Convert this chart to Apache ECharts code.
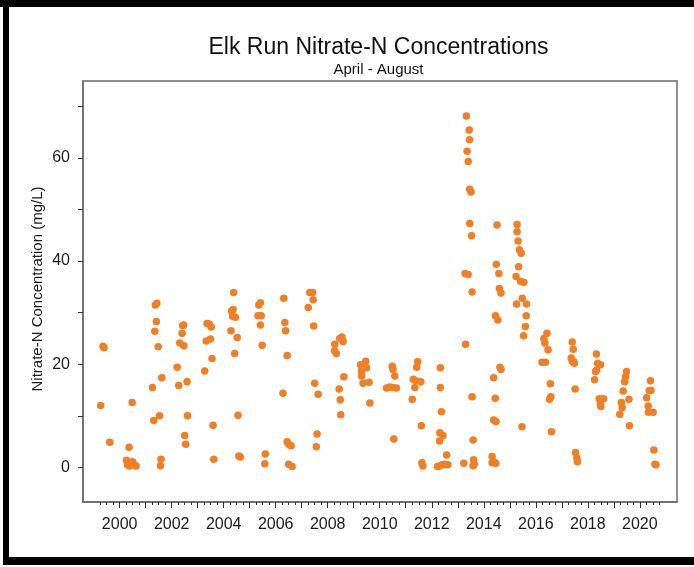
<!DOCTYPE html>
<html>
<head>
<meta charset="utf-8">
<script src="https://cdn.jsdelivr.net/npm/echarts@6/dist/echarts.min.js"></script>
<style>
html,body{margin:0;padding:0;background:#fff;}
#chart{width:694px;height:567px;}
</style>
</head>
<body>
<div id="chart"></div>
<script>
// Samples as [decimal year, nitrate-N mg/L], grouped by year
var s1999 = [[1999.27,12.0],[1999.36,23.5],[1999.40,23.2],[1999.62,4.9]];
var s2000 = [[2000.26,1.4],[2000.30,0.5],[2000.36,3.9],[2000.38,0.3],[2000.48,12.6],[2000.50,1.1],[2000.55,0.5],[2000.63,0.3]];
var s2001 = [[2001.26,15.5],[2001.31,9.1],[2001.35,26.4],[2001.37,31.5],[2001.41,28.3],[2001.43,31.8],[2001.48,23.4],[2001.53,10.0],[2001.57,0.35],[2001.59,1.6],[2001.62,17.4]];
var s2002 = [[2002.21,19.4],[2002.27,15.9],[2002.31,24.1],[2002.40,26.0],[2002.42,27.5],[2002.46,27.6],[2002.47,23.6],[2002.50,6.2],[2002.54,4.5],[2002.59,16.6],[2002.61,10.0]];
var s2003 = [[2003.27,18.7],[2003.33,24.5],[2003.36,27.9],[2003.44,27.8],[2003.49,24.9],[2003.52,27.2],[2003.55,21.1],[2003.59,8.2],[2003.62,1.6]];
var s2004 = [[2004.28,26.5],[2004.30,30.3],[2004.36,30.6],[2004.34,29.3],[2004.45,29.1],[2004.38,33.9],[2004.42,22.1],[2004.52,25.2],[2004.55,10.1],[2004.58,2.2],[2004.64,2.0]];
var s2005 = [[2005.32,29.4],[2005.35,31.5],[2005.41,31.9],[2005.41,27.6],[2005.44,29.4],[2005.48,23.7],[2005.58,0.7],[2005.60,2.6]];
var s2006 = [[2006.28,14.4],[2006.31,32.8],[2006.35,28.1],[2006.38,26.5],[2006.44,21.7],[2006.44,5.0],[2006.50,4.5],[2006.59,4.2],[2006.50,0.6],[2006.63,0.2]];
var s2007 = [[2007.25,31.0],[2007.31,33.9],[2007.42,33.9],[2007.44,32.5],[2007.46,27.4],[2007.50,16.3],[2007.56,4.0],[2007.59,6.5],[2007.63,14.2]];
var s2008 = [[2008.26,22.6],[2008.27,23.9],[2008.33,22.1],[2008.44,15.2],[2008.46,25.0],[2008.48,13.1],[2008.50,10.2],[2008.55,25.3],[2008.59,24.4],[2008.62,17.6]];
var s2009 = [[2009.26,19.9],[2009.30,18.7],[2009.30,17.7],[2009.36,16.3],[2009.46,20.6],[2009.49,19.3],[2009.59,16.5],[2009.62,12.5]];
var s2010 = [[2010.26,15.4],[2010.38,15.6],[2010.48,19.6],[2010.51,19.0],[2010.51,15.5],[2010.54,5.5],[2010.58,17.7],[2010.64,15.4]];
var s2011 = [[2011.25,13.2],[2011.29,17.1],[2011.35,15.5],[2011.38,16.8],[2011.42,19.4],[2011.46,20.5],[2011.58,16.6],[2011.60,8.1],[2011.62,0.9],[2011.66,0.3]];
var s2012 = [[2012.22,0.2],[2012.30,0.3],[2012.33,19.3],[2012.33,15.5],[2012.37,10.8],[2012.31,6.7],[2012.43,6.2],[2012.30,5.1],[2012.40,0.5],[2012.50,0.6],[2012.57,2.4],[2012.62,0.5]];
var s2013 = [[2013.23,0.8],[2013.28,37.6],[2013.30,23.9],[2013.33,68.1],[2013.36,61.3],[2013.40,59.3],[2013.40,37.4],[2013.44,65.4],[2013.45,63.5],[2013.46,53.9],[2013.46,47.3],[2013.51,53.4],[2013.53,44.9],[2013.55,34.0],[2013.55,13.7],[2013.59,5.3],[2013.61,1.5],[2013.63,0.6],[2013.59,0.35]];
var s2014 = [[2014.32,2.1],[2014.32,0.9],[2014.38,1.1],[2014.38,17.4],[2014.38,9.2],[2014.44,13.4],[2014.45,29.4],[2014.46,0.8],[2014.47,8.9],[2014.48,39.4],[2014.51,47.0],[2014.54,28.6],[2014.58,37.6],[2014.60,34.7],[2014.62,19.4],[2014.66,33.8],[2014.66,19.0]];
var s2015 = [[2015.24,37.0],[2015.26,31.7],[2015.28,47.1],[2015.28,45.7],[2015.32,43.9],[2015.34,38.9],[2015.37,42.2],[2015.41,36.1],[2015.44,41.5],[2015.47,7.9],[2015.48,32.8],[2015.53,25.5],[2015.54,35.9],[2015.60,27.3],[2015.63,29.4],[2015.64,31.7]];
var s2016 = [[2016.24,20.4],[2016.31,25.0],[2016.35,24.1],[2016.37,20.4],[2016.43,26.0],[2016.47,22.8],[2016.53,13.2],[2016.56,16.2],[2016.58,13.7],[2016.60,6.9]];
var s2017 = [[2017.36,21.2],[2017.40,24.3],[2017.40,20.6],[2017.44,22.9],[2017.46,20.5],[2017.48,20.2],[2017.51,15.2],[2017.53,2.9],[2017.58,1.8],[2017.60,1.1]];
var s2018 = [[2018.26,17.0],[2018.30,18.6],[2018.33,22.0],[2018.34,18.9],[2018.38,20.2],[2018.44,13.3],[2018.49,19.9],[2018.48,12.4],[2018.50,11.8],[2018.61,13.3]];
var s2019 = [[2019.23,10.3],[2019.29,12.6],[2019.32,11.6],[2019.36,14.8],[2019.42,16.6],[2019.45,17.6],[2019.49,18.6],[2019.58,13.2],[2019.60,8.1]];
var s2020 = [[2020.26,13.5],[2020.32,11.9],[2020.33,10.7],[2020.36,14.9],[2020.41,16.8],[2020.43,14.9],[2020.51,10.7],[2020.54,3.4],[2020.58,0.6],[2020.62,0.5]];

// Axis ticks and labels
var yTicks = [0,10,20,30,40,50,60,70];
var yLabels = [0,20,40,60];
var xMajorTicks = [2000,2001,2002,2003,2004,2005,2006,2007,2008,2009,2010,2011,2012,2013,2014,2015,2016,2017,2018,2019,2020];
var xLabels = [2000,2002,2004,2006,2008,2010,2012,2014,2016,2018,2020];
var xMinorTicks = [1999.25,1999.5,1999.75];
xMajorTicks.forEach(function(y){ xMinorTicks.push(y+0.25, y+0.5, y+0.75); });

var allData = [].concat(s1999,s2000,s2001,s2002,s2003,s2004,s2005,s2006,s2007,s2008,s2009,s2010,
  s2011,s2012,s2013,s2014,s2015,s2016,s2017,s2018,s2019,s2020);

var FONT = "'Liberation Sans', Arial, sans-serif";
var X_MIN = 1998.59, X_MAX = 2021.43;
var Y_MIN = -6.7, Y_MAX = 74.9;
var AX = '#6a6a6a';

var chart = echarts.init(document.getElementById('chart'), null, {renderer:'canvas'});
chart.setOption({
  animation: false,
  backgroundColor: '#ffffff',
  grid: { left: 83, top: 81, width: 594, height: 421, show: true, borderColor: AX, borderWidth: 1.5, backgroundColor: 'transparent' },
  xAxis: [{
    type: 'value', min: X_MIN, max: X_MAX, gridIndex: 0, position: 'bottom',
    axisLine: { show: true, onZero: false, lineStyle: { color: AX, width: 1.5 } },
    axisTick: { show: true, length: 6, customValues: xMajorTicks, lineStyle: { color: '#333', width: 1 } },
    axisLabel: { customValues: xLabels, fontSize: 16, color: '#1b1b1b', fontFamily: FONT, margin: 15,
      formatter: function(v){ return String(Math.round(v)); } },
    splitLine: { show: false }
  },{
    type: 'value', min: X_MIN, max: X_MAX, gridIndex: 0, position: 'bottom', offset: 0,
    axisLine: { show: false, onZero: false },
    axisTick: { show: true, length: 3, customValues: xMinorTicks, lineStyle: { color: '#333', width: 1 } },
    axisLabel: { show: false },
    splitLine: { show: false }
  }],
  yAxis: [{
    type: 'value', min: Y_MIN, max: Y_MAX,
    axisLine: { show: true, onZero: false, lineStyle: { color: AX, width: 1.5 } },
    axisTick: { show: true, length: 5, customValues: yTicks, lineStyle: { color: '#333', width: 1 } },
    axisLabel: { customValues: yLabels, fontSize: 16, color: '#1b1b1b', fontFamily: FONT, margin: 13 },
    splitLine: { show: false }
  }],
  series: [{
    type: 'scatter', xAxisIndex: 0, yAxisIndex: 0,
    data: allData, symbol: 'circle', symbolSize: 7.5,
    itemStyle: { color: '#f07f26', opacity: 1 }
  }],
  graphic: [
    { type: 'rect', shape: { x: 0, y: 0, width: 694, height: 7 }, style: { fill: '#000' } },
    { type: 'rect', shape: { x: 3, y: 0, width: 6, height: 565 }, style: { fill: '#000' } },
    { type: 'rect', shape: { x: 3, y: 557, width: 691, height: 8 }, style: { fill: '#000' } },
    { type: 'text', x: 378.5, y: 48, style: { text: 'Elk Run Nitrate-N Concentrations', fontSize: 23, fontFamily: FONT, fill: '#111', align: 'center', verticalAlign: 'middle' } },
    { type: 'text', x: 378.5, y: 69.5, style: { text: 'April - August', fontSize: 15, fontFamily: FONT, fill: '#111', align: 'center', verticalAlign: 'middle' } },
    { type: 'text', x: 37.5, y: 289, rotation: Math.PI/2, style: { text: 'Nitrate-N Concentration (mg/L)', fontSize: 15, fontFamily: FONT, fill: '#1b1b1b', align: 'center', verticalAlign: 'middle' } }
  ]
});
</script>
</body>
</html>
